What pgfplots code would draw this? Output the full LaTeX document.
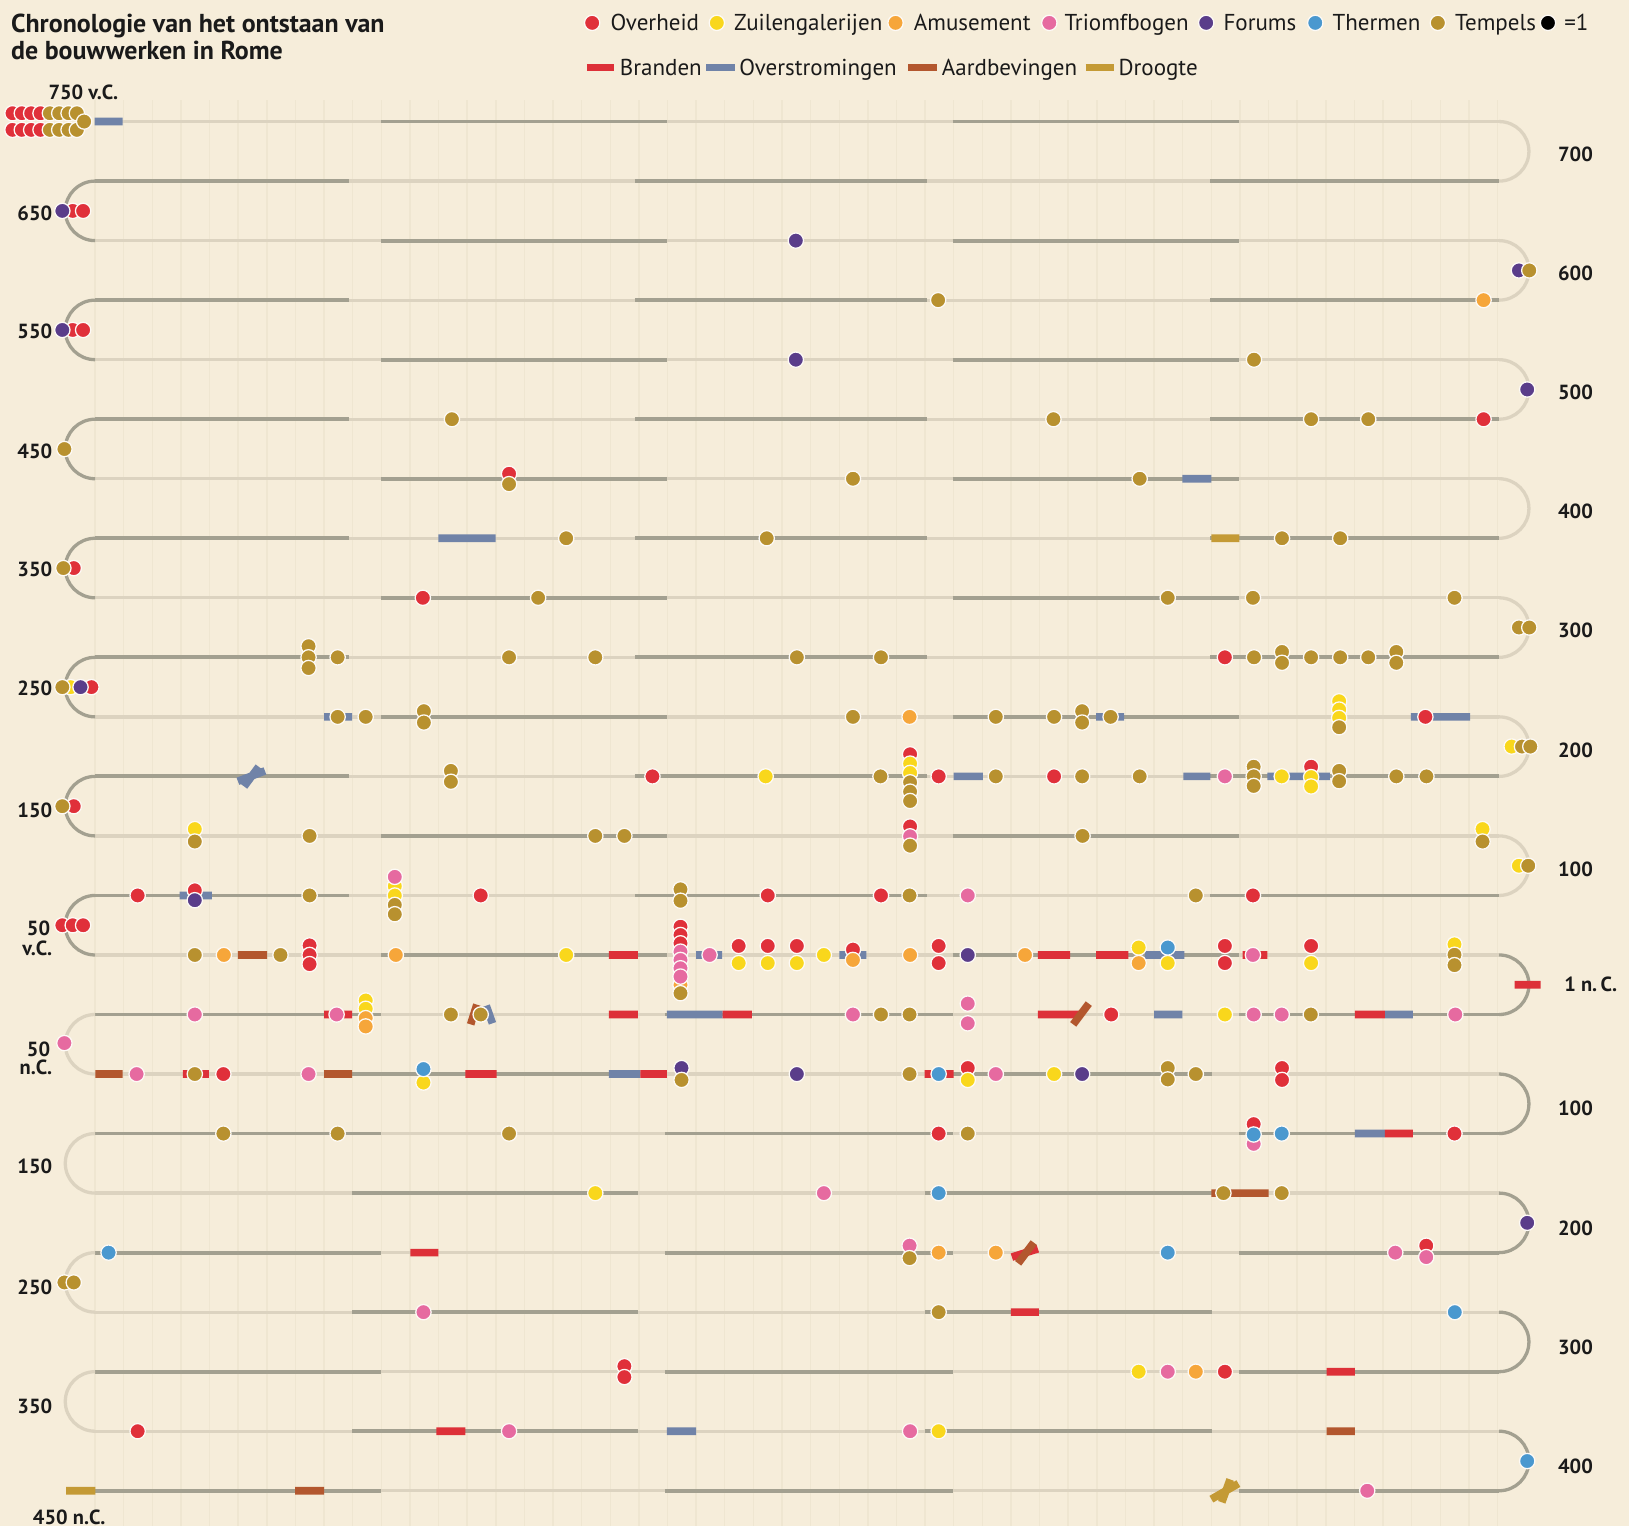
\documentclass[border=0pt]{standalone}
\usepackage{pgfplots}
\pgfplotsset{compat=1.18}
\usepackage{fontspec}
\setmainfont{PT Sans}
\definecolor{bgc}{HTML}{F6EDDA}
\definecolor{gridc}{HTML}{EFE6D1}
\definecolor{rowL}{HTML}{DCD3C0}
\definecolor{rowD}{HTML}{A3A090}
\definecolor{cOver}{HTML}{E0303A}
\definecolor{cZuil}{HTML}{F9D71C}
\definecolor{cAmus}{HTML}{F6A63A}
\definecolor{cTri}{HTML}{E66AA0}
\definecolor{cFor}{HTML}{5A3D8A}
\definecolor{cTherm}{HTML}{4A98CF}
\definecolor{cTemp}{HTML}{B8912F}
\definecolor{cBrand}{HTML}{DD3038}
\definecolor{cFlood}{HTML}{7083A8}
\definecolor{cQuake}{HTML}{B3572E}
\definecolor{cDrought}{HTML}{C49A35}
\definecolor{txt}{HTML}{1A1A1A}
\newcommand\titlef{\fontsize{7.1pt}{8pt}\selectfont\bfseries}
\newcommand\legf{\fontsize{6.3pt}{7pt}\selectfont}
\newcommand\labf{\fontsize{5.6pt}{6.5pt}\selectfont\bfseries}
\pgfplotsset{
  dot/.style={only marks, mark=*, mark size=2.1pt, color=#1,
    mark options={fill=#1, draw=white!75!bgc, line width=0.35pt}},
  evbar/.style={draw=#1, line width=2.1pt, line cap=butt, unbounded coords=jump, mark=none},
}
\tikzset{
  turnL/.style={draw=rowL, line width=0.9pt},
  turnD/.style={draw=rowD, line width=0.9pt},
}
\newcommand\rturn[2]{\draw[#2] (axis cs:1443,#1) arc[start angle=90,end angle=-90,radius=2.865mm];}
\newcommand\lturn[2]{\draw[#2] (axis cs:91.5,#1) arc[start angle=90,end angle=270,radius=2.865mm];}
\begin{document}
\begin{tikzpicture}
\begin{axis}[
  width=156.8mm, height=146.9mm, scale only axis,
  xmin=0, xmax=1568, ymin=0, ymax=1469, y dir=reverse,
  enlargelimits=false,
  axis line style={draw=none},
  xtick={91.5,119.05,...,1442}, ytick=\empty,
  xticklabels={}, major tick length=0pt,
  xmajorgrids, major grid style={draw=gridc, line width=0.4pt},
  axis background/.style={fill=bgc},
]
\fill[bgc] (axis cs:0,0) rectangle (axis cs:1568,96);

% ---- serpentine rows (light) ----
\addplot[draw=rowL, line width=0.9pt, unbounded coords=jump, mark=none] coordinates {
(91.5,117) (1443,117) (nan,nan)
(91.5,174.3) (1443,174.3) (nan,nan)
(91.5,231.6) (1443,231.6) (nan,nan)
(91.5,288.9) (1443,288.9) (nan,nan)
(91.5,346.2) (1443,346.2) (nan,nan)
(91.5,403.5) (1443,403.5) (nan,nan)
(91.5,460.8) (1443,460.8) (nan,nan)
(91.5,518.1) (1443,518.1) (nan,nan)
(91.5,575.4) (1443,575.4) (nan,nan)
(91.5,632.7) (1443,632.7) (nan,nan)
(91.5,690) (1443,690) (nan,nan)
(91.5,747.3) (1443,747.3) (nan,nan)
(91.5,804.6) (1443,804.6) (nan,nan)
(91.5,861.9) (1443,861.9) (nan,nan)
(91.5,919.2) (1443,919.2) (nan,nan)
(91.5,976.5) (1443,976.5) (nan,nan)
(91.5,1033.8) (1443,1033.8) (nan,nan)
(91.5,1091.1) (1443,1091.1) (nan,nan)
(91.5,1148.4) (1443,1148.4) (nan,nan)
(91.5,1205.7) (1443,1205.7) (nan,nan)
(91.5,1263) (1443,1263) (nan,nan)
(91.5,1320.3) (1443,1320.3) (nan,nan)
(91.5,1377.6) (1443,1377.6) (nan,nan)
(63.7,1434.9) (1443,1434.9)
};
% ---- dark decades ----
\addplot[draw=rowD, line width=1.05pt, unbounded coords=jump, mark=none] coordinates {
(367,117) (642,117) (nan,nan) (917,117) (1193,117) (nan,nan)
(91.5,174.3) (336,174.3) (nan,nan) (611,174.3) (892,174.3) (nan,nan) (1165,174.3) (1443,174.3) (nan,nan)
(367,231.6) (642,231.6) (nan,nan) (917,231.6) (1193,231.6) (nan,nan)
(91.5,288.9) (336,288.9) (nan,nan) (611,288.9) (892,288.9) (nan,nan) (1165,288.9) (1443,288.9) (nan,nan)
(367,346.2) (642,346.2) (nan,nan) (917,346.2) (1193,346.2) (nan,nan)
(91.5,403.5) (336,403.5) (nan,nan) (611,403.5) (892,403.5) (nan,nan) (1165,403.5) (1443,403.5) (nan,nan)
(367,460.8) (642,460.8) (nan,nan) (917,460.8) (1193,460.8) (nan,nan)
(91.5,518.1) (336,518.1) (nan,nan) (611,518.1) (892,518.1) (nan,nan) (1165,518.1) (1443,518.1) (nan,nan)
(367,575.4) (642,575.4) (nan,nan) (917,575.4) (1193,575.4) (nan,nan)
(91.5,632.7) (336,632.7) (nan,nan) (611,632.7) (892,632.7) (nan,nan) (1165,632.7) (1443,632.7) (nan,nan)
(367,690) (642,690) (nan,nan) (917,690) (1193,690) (nan,nan)
(91.5,747.3) (336,747.3) (nan,nan) (611,747.3) (892,747.3) (nan,nan) (1165,747.3) (1443,747.3) (nan,nan)
(367,804.6) (642,804.6) (nan,nan) (917,804.6) (1193,804.6) (nan,nan)
(91.5,861.9) (336,861.9) (nan,nan) (611,861.9) (892,861.9) (nan,nan) (1165,861.9) (1443,861.9) (nan,nan)
(367,919.2) (642,919.2) (nan,nan) (917,919.2) (1193,919.2) (nan,nan)
(91.5,976.5) (367,976.5) (nan,nan) (640,976.5) (917,976.5) (nan,nan) (1193,976.5) (1443,976.5) (nan,nan)
(339,1033.8) (614,1033.8) (nan,nan) (890,1033.8) (1167,1033.8) (nan,nan)
(91.5,1091.1) (367,1091.1) (nan,nan) (640,1091.1) (917,1091.1) (nan,nan) (1193,1091.1) (1443,1091.1) (nan,nan)
(339,1148.4) (614,1148.4) (nan,nan) (890,1148.4) (1167,1148.4) (nan,nan)
(91.5,1205.7) (367,1205.7) (nan,nan) (640,1205.7) (917,1205.7) (nan,nan) (1193,1205.7) (1443,1205.7) (nan,nan)
(339,1263) (614,1263) (nan,nan) (890,1263) (1167,1263) (nan,nan)
(91.5,1320.3) (367,1320.3) (nan,nan) (640,1320.3) (917,1320.3) (nan,nan) (1193,1320.3) (1443,1320.3) (nan,nan)
(339,1377.6) (614,1377.6) (nan,nan) (890,1377.6) (1167,1377.6) (nan,nan)
(63.7,1434.9) (367,1434.9) (nan,nan) (640,1434.9) (917,1434.9) (nan,nan) (1193,1434.9) (1443,1434.9)
};
% ---- turns ----
\rturn{117}{turnL}
\lturn{174.3}{turnD}
\rturn{231.6}{turnL}
\lturn{288.9}{turnD}
\rturn{346.2}{turnL}
\lturn{403.5}{turnD}
\rturn{460.8}{turnL}
\lturn{518.1}{turnD}
\rturn{575.4}{turnL}
\lturn{632.7}{turnD}
\rturn{690}{turnL}
\lturn{747.3}{turnD}
\rturn{804.6}{turnL}
\lturn{861.9}{turnD}
\rturn{919.2}{turnD}
\lturn{976.5}{turnL}
\rturn{1033.8}{turnD}
\lturn{1091.1}{turnL}
\rturn{1148.4}{turnD}
\lturn{1205.7}{turnL}
\rturn{1263}{turnD}
\lturn{1320.3}{turnL}
\rturn{1377.6}{turnD}

% ---- event bars ----
% Overstromingen
\addplot[evbar=cFlood] coordinates {
(91,117) (118,117) (nan,nan)
(1138,460.8) (1166,460.8) (nan,nan)
(422,518.1) (477,518.1) (nan,nan)
(312,690) (339,690) (nan,nan)
(1055,690) (1082,690) (nan,nan)
(1358,690) (1415,690) (nan,nan)
(918,747.3) (946,747.3) (nan,nan)
(1139,747.3) (1165,747.3) (nan,nan)
(1220,747.3) (1280,747.3) (nan,nan)
(229,752) (255,742) (nan,nan)
(235,757) (249,738) (nan,nan)
(173,861.9) (204,861.9) (nan,nan)
(670,919.2) (695,919.2) (nan,nan)
(808,919.2) (834,919.2) (nan,nan)
(1102,919.2) (1140,919.2) (nan,nan)
(642,976.5) (695.5,976.5) (nan,nan)
(1111,976.5) (1138,976.5) (nan,nan)
(1333,976.5) (1360,976.5) (nan,nan)
(468,968) (474,985) (nan,nan)
(586,1033.8) (616.5,1033.8) (nan,nan)
(1304,1091.1) (1333,1091.1) (nan,nan)
(642,1377.6) (670,1377.6)
};
% Branden
\addplot[evbar=cBrand] coordinates {
(586,919.2) (614,919.2) (nan,nan)
(999,919.2) (1030,919.2) (nan,nan)
(1055,919.2) (1086,919.2) (nan,nan)
(1196,919.2) (1220,919.2) (nan,nan)
(1458,947.85) (1483,947.85) (nan,nan)
(312,976.5) (339,976.5) (nan,nan)
(586,976.5) (614,976.5) (nan,nan)
(695.5,976.5) (723.6,976.5) (nan,nan)
(999,976.5) (1040,976.5) (nan,nan)
(1304,976.5) (1333,976.5) (nan,nan)
(176,1033.8) (201,1033.8) (nan,nan)
(448,1033.8) (478,1033.8) (nan,nan)
(616.5,1033.8) (642,1033.8) (nan,nan)
(890,1033.8) (918,1033.8) (nan,nan)
(1333,1091.1) (1360,1091.1) (nan,nan)
(395,1205.7) (422,1205.7) (nan,nan)
(974,1210) (999,1202) (nan,nan)
(973,1263) (1000,1263) (nan,nan)
(1277,1320.3) (1304,1320.3) (nan,nan)
(420,1377.6) (448,1377.6)
};
% Aardbevingen
\addplot[evbar=cQuake] coordinates {
(229,919.2) (257,919.2) (nan,nan)
(453,986) (459,967) (nan,nan)
(1033,986) (1048,966) (nan,nan)
(91.7,1033.8) (118,1033.8) (nan,nan)
(312,1033.8) (339,1033.8) (nan,nan)
(1166,1148.4) (1221,1148.4) (nan,nan)
(980,1216) (995,1196) (nan,nan)
(1277,1377.6) (1304,1377.6) (nan,nan)
(284,1434.9) (312,1434.9)
};
% Droogte
\addplot[evbar=cDrought] coordinates {
(1166,518.1) (1193,518.1) (nan,nan)
(63.7,1434.9) (91.7,1434.9) (nan,nan)
(1166,1443) (1192,1428) (nan,nan)
(1176,1446) (1184,1424)
};

% ---- buildings ----
% Overheid
\addplot[dot=cOver] table {
x y
12 109
21 109
30 109
39 109
12 125
21 125
30 125
39 125
70 203
80 203
70 317.6
80 317.6
1428 403.5
490 456
71 546.8
407 575.4
1179 632.7
88 661.4
1372 690
628 747.3
876 726
903.5 747.3
1014.6 747.3
1262 738
71 776
876 795.5
132.5 861.9
187.5 857
462.7 861.9
739 861.9
848 861.9
1206 861.9
60 890.6
70 890.6
80 890.6
298 910
298 919.2
298 928
655 892
655 900
655 908
711 910.5
739 910.5
767 910.5
821 914
903.5 910.5
903.5 927
1179 910.5
1179 927
1262 910.5
1069.6 976.5
215 1033.8
931.5 1028
1234 1028
1234 1039.5
903.5 1091.1
1206.7 1082
1400 1091.1
1372.8 1199
601 1315
601 1325.5
1179 1320.3
132.5 1377.6
};
% Zuilengalerijen
\addplot[dot=cZuil] table {
x y
68 661.4
1289 675
1289 683
1289 691
1455 718.6
737 747.3
876 735
876 744
1233.7 747.3
1262 748
1262 757
187.5 798
1427 798
1462 833.3
380 853
380 862
545 919.2
711 927
739 927
767 927
793 919.2
1096 912
1124 927
1262 927
1400 909
352 963
352 971
1179 976.5
407.6 1042
931.5 1039.5
1014.6 1033.8
573 1148.4
1096 1320.3
903.5 1377.6
};
% Amusement
\addplot[dot=cAmus] table {
x y
1428 288.9
875.5 690
215.5 919.2
381 919.2
655 948
821 924
876 919.2
986.6 919.2
1096 927
352 980
352 988
903.5 1205.7
958.5 1205.7
1151 1320.3
};
% Triomfbogen
\addplot[dot=cTri] table {
x y
1179 747.3
876 805
380 844
931.5 861.9
655 916
655 924
655 932
655 940
683 919.2
1206 919.2
187.5 976.5
324 976.5
821 976.5
931.5 966
931.5 985
1206.7 976.5
1233.7 976.5
1400.8 976.5
62 1004
131.5 1033.8
297 1033.8
958.5 1033.8
1206.7 1101
793 1148.4
875.5 1199
1343 1205.7
1372.8 1210
407.6 1263
1124 1320.3
490 1377.6
876 1377.6
1316 1434.9
};
% Forums
\addplot[dot=cFor] table {
x y
60 203
766 231.6
1462 260.3
60 317.6
766 346.2
1470 374.9
77.5 661.4
187.5 866.5
931.5 919.2
656 1028
767 1033.8
1041.6 1033.8
1470 1177
};
% Thermen
\addplot[dot=cTherm] table {
x y
1124 912
407.6 1029
903.5 1033.8
1206.7 1092
1233.7 1091.1
903.5 1148.4
104.5 1205.7
1124 1205.7
1400.3 1263
1470 1406.3
};
% Tempels
\addplot[dot=cTemp] table {
x y
48 109
57 109
66 109
74 109
48 125
57 125
66 125
74 125
81 117
1472 260.3
903 288.9
1207 346.2
435 403.5
1014 403.5
1262 403.5
1317 403.5
62 432.2
490 466
821 460.8
1097 460.8
545 518.1
738 518.1
1234 518.1
1290 518.1
61 546.8
518 575.4
1124 575.4
1206 575.4
1400 575.4
1462 604
1472 604
297 622
297 632.7
297 643
325 632.7
490 632.7
573 632.7
767 632.7
848 632.7
1207 632.7
1234 627.5
1234 638
1262 632.7
1290 632.7
1317 632.7
1344 627.5
1344 638
60 661.4
325 690
352 690
408 684.5
408 695.5
821 690
958.5 690
1014.6 690
1041.6 684.5
1041.6 695.5
1069 690
1289 700
1465 718.6
1473 718.6
434 742
434 752.5
847.5 747.3
876 753
876 762
876 771
958.5 747.3
1041.6 747.3
1097 747.3
1206.7 738
1206.7 747.3
1206.7 756.5
1289 742
1289 752
1344 747.3
1373 747.3
60 776
187.5 810
298 804.6
573 804.6
601 804.6
876 814
1042 804.6
1427 810
1471 833.3
298 861.9
380 871
380 880
655 856
655 867
875.5 861.9
1151 861.9
187.5 919.2
270 919.2
655 956
1400 919
1400 929
434 976.5
462.7 976.5
848 976.5
875.5 976.5
1261.7 976.5
187.5 1033.8
656 1039.5
875.5 1033.8
1124 1028
1124 1039
1151 1033.8
215 1091.1
325 1091.1
490 1091.1
931.5 1091.1
1177.6 1148.4
1233.7 1148.4
875.5 1211
62 1234.4
71 1234.4
903.5 1263
};

% ---- legend symbols ----
\addplot[dot=cOver] coordinates {(570,22)};
\addplot[dot=cZuil] coordinates {(690,22)};
\addplot[dot=cAmus] coordinates {(862,22)};
\addplot[dot=cTri] coordinates {(1010,22)};
\addplot[dot=cFor] coordinates {(1161,22)};
\addplot[dot=cTherm] coordinates {(1266,22)};
\addplot[dot=cTemp] coordinates {(1384,22)};
\addplot[dot=black] coordinates {(1490,22)};
\addplot[evbar=cBrand] coordinates {(565,65) (591,65)};
\addplot[evbar=cFlood] coordinates {(680,65) (707,65)};
\addplot[evbar=cQuake] coordinates {(874,65) (902,65)};
\addplot[evbar=cDrought] coordinates {(1045,65) (1072,65)};

% ---- texts ----
\node[anchor=base west, font=\titlef, text=txt, inner sep=0pt] at (axis cs:10,31) {Chronologie van het ontstaan van};
\node[anchor=base west, font=\titlef, text=txt, inner sep=0pt] at (axis cs:10,57) {de bouwwerken in Rome};
\begin{scope}[every node/.style={anchor=base west, font=\legf, text=txt, inner sep=0pt}]
\node at (axis cs:587,29.5) {Overheid};
\node at (axis cs:706,29.5) {Zuilengalerijen};
\node at (axis cs:879,29.5) {Amusement};
\node at (axis cs:1024,29.5) {Triomfbogen};
\node at (axis cs:1177,29.5) {Forums};
\node at (axis cs:1282,29.5) {Thermen};
\node at (axis cs:1400,29.5) {Tempels};
\node at (axis cs:1505,29.5) {=1};
\node at (axis cs:596,72.5) {Branden};
\node at (axis cs:711,72.5) {Overstromingen};
\node at (axis cs:906,72.5) {Aardbevingen};
\node at (axis cs:1076,72.5) {Droogte};
\end{scope}
\begin{scope}[every node/.style={font=\labf, text=txt, inner sep=0pt}]
\node[anchor=base west] at (axis cs:46,96) {750 v.C.};
\node[anchor=base east] at (axis cs:51,212) {650};
\node[anchor=base east] at (axis cs:51,326) {550};
\node[anchor=base east] at (axis cs:51,441) {450};
\node[anchor=base east] at (axis cs:51,555) {350};
\node[anchor=base east] at (axis cs:51,669) {250};
\node[anchor=base east] at (axis cs:51,787) {150};
\node[anchor=base east] at (axis cs:49,900) {50};
\node[anchor=base east] at (axis cs:51,920) {v.C.};
\node[anchor=base east] at (axis cs:49,1017) {50};
\node[anchor=base east] at (axis cs:51,1034) {n.C.};
\node[anchor=base east] at (axis cs:51,1130) {150};
\node[anchor=base east] at (axis cs:51,1246) {250};
\node[anchor=base east] at (axis cs:51,1361) {350};
\node[anchor=base west] at (axis cs:31,1467) {450 n.C.};
\node[anchor=base west] at (axis cs:1499,155) {700};
\node[anchor=base west] at (axis cs:1499,270) {600};
\node[anchor=base west] at (axis cs:1499,385) {500};
\node[anchor=base west] at (axis cs:1499,499) {400};
\node[anchor=base west] at (axis cs:1499,614) {300};
\node[anchor=base west] at (axis cs:1499,729) {200};
\node[anchor=base west] at (axis cs:1499,844) {100};
\node[anchor=base west] at (axis cs:1505,954) {1 n.\,C.};
\node[anchor=base west] at (axis cs:1499,1074) {100};
\node[anchor=base west] at (axis cs:1499,1189) {200};
\node[anchor=base west] at (axis cs:1499,1304) {300};
\node[anchor=base west] at (axis cs:1499,1418) {400};
\end{scope}
\end{axis}
\pgfresetboundingbox
\path[use as bounding box] (current axis.south west) rectangle (current axis.north east);
\end{tikzpicture}
\end{document}
